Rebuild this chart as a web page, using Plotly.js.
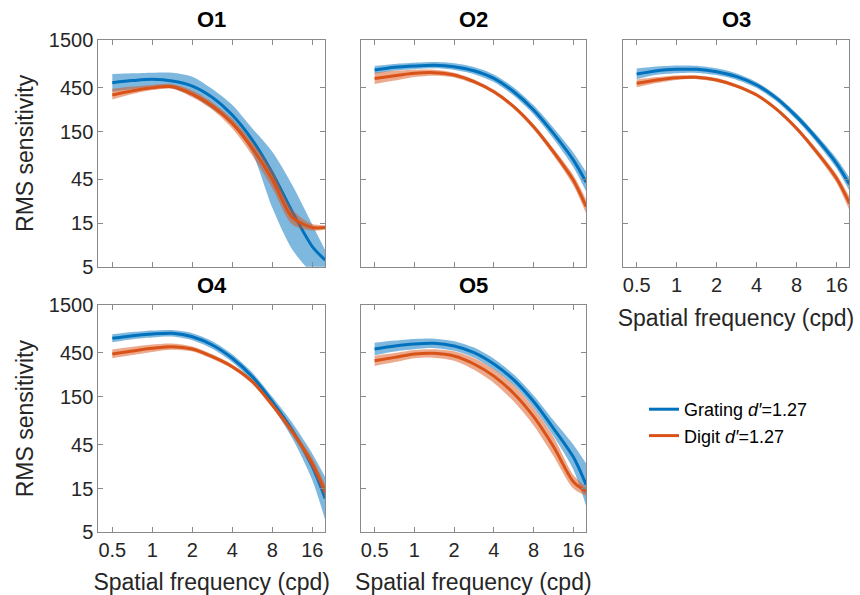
<!DOCTYPE html>
<html><head><meta charset="utf-8">
<script src="https://cdn.plot.ly/plotly-3.0.1.min.js"></script>
<style>body{margin:0;background:#fff}#chart{width:860px;height:595px}</style>
</head><body><div id="chart"></div>
<script>
// Spatial frequency (cpd)
const freq = [0.5, 0.71, 1, 1.41, 2, 2.83, 4, 5.66, 8, 11.3, 16, 20];
const panelNames = ['O1', 'O2', 'O3', 'O4', 'O5'];
const xTickVals = [0.5, 1, 2, 4, 8, 16];
const xTickText = ['0.5', '1', '2', '4', '8', '16'];
const yTickVals = [5, 15, 45, 150, 450, 1500];
const yTickText = ['5', '15', '45', '150', '450', '1500'];
const seriesNames = ['Grating <i>d′</i>=1.27', 'Digit <i>d′</i>=1.27'];

// O1
const gratingO1   = [513, 540, 557, 535, 471, 354, 227, 121, 53, 20, 8.3, 5.9];
const gratingO1Hi = [637, 648, 659, 659, 596, 437, 292, 162, 90, 39, 14.4, 7.6];
const gratingO1Lo = [408, 437, 464, 444, 366, 264, 181, 87, 22, 7.7, 4.2, 3.1];
const digitO1     = [376, 419, 452, 463, 385, 285, 184, 98, 45, 17.3, 13.4, 13.4];
const digitO1Hi   = [440, 465, 485, 495, 420, 312, 207, 115, 56, 21, 14.6, 14.2];
const digitO1Lo   = [335, 385, 425, 440, 355, 260, 162, 82, 36, 14.5, 12.4, 12.7];
// O2
const gratingO2   = [705, 754, 779, 793, 767, 693, 571, 408, 258, 143, 73, 41.7];
const gratingO2Hi = [780, 820, 845, 860, 835, 760, 630, 455, 290, 165, 88, 54];
const gratingO2Lo = [640, 695, 720, 735, 705, 635, 520, 368, 230, 125, 61, 33];
const digitO2     = [571, 611, 648, 659, 621, 526, 408, 280, 169, 90, 44, 22.6];
const digitO2Hi   = [660, 690, 710, 710, 660, 555, 428, 295, 180, 98, 50, 27];
const digitO2Lo   = [495, 540, 590, 610, 585, 498, 388, 265, 158, 82, 38.5, 19];
// O3
const gratingO3   = [637, 693, 717, 717, 676, 596, 483, 345, 218, 126, 67, 39.7];
const gratingO3Hi = [730, 770, 790, 785, 735, 645, 520, 372, 237, 138, 76, 47];
const gratingO3Lo = [560, 625, 650, 655, 620, 550, 448, 320, 200, 114, 59, 33.5];
const digitO3     = [504, 548, 581, 586, 548, 471, 376, 262, 162, 90, 46, 24.6];
const digitO3Hi   = [555, 590, 615, 615, 575, 492, 392, 274, 171, 97, 51, 29];
const digitO3Lo   = [458, 508, 550, 560, 523, 452, 360, 250, 153, 83, 41, 20.5];
// O4
const gratingO4   = [650, 695, 724, 736, 677, 550, 394, 248, 133, 65, 26, 11.7];
const gratingO4Hi = [720, 760, 790, 800, 740, 605, 435, 275, 150, 78, 36, 20];
const gratingO4Lo = [590, 635, 665, 680, 620, 500, 357, 223, 117, 53, 18.5, 6.8];
const digitO4     = [438, 473, 506, 527, 497, 410, 319, 219, 122, 62.5, 28, 13.9];
const digitO4Hi   = [490, 525, 555, 570, 530, 435, 337, 232, 130, 68, 32, 16.5];
const digitO4Lo   = [395, 428, 462, 488, 467, 387, 302, 207, 114, 57, 24.5, 11.8];
// O5
const gratingO5   = [497, 536, 564, 573, 536, 454, 341, 229, 133, 68, 33, 16.4];
const gratingO5Hi = [580, 615, 640, 645, 605, 515, 390, 262, 155, 83, 45, 28];
const gratingO5Lo = [425, 468, 495, 508, 475, 400, 298, 200, 114, 56, 24, 9.6];
const digitO5     = [371, 403, 438, 446, 417, 341, 252, 163, 91, 43, 17.8, 13.9];
const digitO5Hi   = [420, 450, 485, 495, 470, 395, 300, 200, 113, 55, 21, 15.5];
const digitO5Lo   = [325, 358, 395, 400, 370, 295, 212, 133, 73, 34, 15, 12.5];

const panelData = [
  [gratingO1, gratingO1Lo, gratingO1Hi, digitO1, digitO1Lo, digitO1Hi],
  [gratingO2, gratingO2Lo, gratingO2Hi, digitO2, digitO2Lo, digitO2Hi],
  [gratingO3, gratingO3Lo, gratingO3Hi, digitO3, digitO3Lo, digitO3Hi],
  [gratingO4, gratingO4Lo, gratingO4Hi, digitO4, digitO4Lo, digitO4Hi],
  [gratingO5, gratingO5Lo, gratingO5Hi, digitO5, digitO5Lo, digitO5Hi]
];

const blue = '#0072BD', orange = '#D95319';
const blueFill = 'rgba(0,114,189,0.5)', orangeFill = 'rgba(217,83,25,0.5)';
const font = 'Liberation Sans, Arial, Helvetica, sans-serif';

const W = 860, H = 595;
const colPx = [[98.3, 325], [360.7, 586], [622.7, 849.3]];
const rowPx = [[40, 266.7], [305, 532.3]];
const place = [[0, 0], [0, 1], [0, 2], [1, 0], [1, 1]];

const traces = [];
const layout = {
  width: W, height: H,
  margin: {l: 0, r: 0, t: 0, b: 0},
  paper_bgcolor: '#fff', plot_bgcolor: '#fff',
  font: {family: font, color: '#262626'},
  showlegend: true,
  legend: {x: 644 / W, y: 1 - 391 / H, xanchor: 'left', yanchor: 'top',
           font: {size: 18, family: font, color: '#000'}, bgcolor: 'rgba(0,0,0,0)',
           tracegroupgap: 0, itemwidth: 30},
  annotations: []
};

panelData.forEach((d, i) => {
  const [r, c] = place[i];
  const sfx = i === 0 ? '' : String(i + 1);
  const xa = 'x' + sfx, ya = 'y' + sfx;
  const common = {x: freq, xaxis: xa, yaxis: ya, mode: 'lines', hoverinfo: 'skip'};
  const spl = {shape: 'spline', smoothing: 0.8};
  traces.push(Object.assign({}, common, {y: d[1], line: Object.assign({width: 0, color: blueFill}, spl), showlegend: false}));
  traces.push(Object.assign({}, common, {y: d[2], fill: 'tonexty', fillcolor: blueFill, line: Object.assign({width: 0, color: blueFill}, spl), showlegend: false}));
  traces.push(Object.assign({}, common, {y: d[0], name: seriesNames[0], legendgroup: 'g', showlegend: i === 0, line: Object.assign({width: 3, color: blue}, spl)}));
  traces.push(Object.assign({}, common, {y: d[4], line: Object.assign({width: 0, color: orangeFill}, spl), showlegend: false}));
  traces.push(Object.assign({}, common, {y: d[5], fill: 'tonexty', fillcolor: orangeFill, line: Object.assign({width: 0, color: orangeFill}, spl), showlegend: false}));
  traces.push(Object.assign({}, common, {y: d[3], name: seriesNames[1], legendgroup: 'd', showlegend: i === 0, line: Object.assign({width: 3, color: orange}, spl)}));

  const showXLabels = (i >= 2);
  const showYLabels = (c === 0);
  const axBase = {
    showline: true, linecolor: '#8a8a8a', linewidth: 1, mirror: 'ticks',
    ticks: 'inside', ticklen: 5, tickcolor: '#8a8a8a', tickwidth: 1,
    showgrid: false, zeroline: false, type: 'log', fixedrange: true,
    tickfont: {size: 20, family: font, color: '#262626'}
  };
  layout['xaxis' + sfx] = Object.assign({}, axBase, {
    domain: [colPx[c][0] / W, colPx[c][1] / W],
    range: [Math.log10(0.3923), Math.log10(19.93)],
    anchor: ya, tickvals: xTickVals, ticktext: xTickText,
    showticklabels: showXLabels,
    title: showXLabels ? {text: 'Spatial frequency (cpd)', font: {size: 23, family: font, color: '#262626'}, standoff: 15} : {text: ''}
  });
  layout['yaxis' + sfx] = Object.assign({}, axBase, {
    domain: [1 - rowPx[r][1] / H, 1 - rowPx[r][0] / H],
    range: [Math.log10(5), Math.log10(1500)],
    anchor: xa, tickvals: yTickVals, ticktext: yTickText,
    showticklabels: showYLabels,
    title: showYLabels ? {text: 'RMS sensitivity', font: {size: 23, family: font, color: '#262626'}, standoff: 8} : {text: ''}
  });
  layout.annotations.push({
    text: '<b>' + panelNames[i] + '</b>', xref: 'paper', yref: 'paper',
    x: (colPx[c][0] + colPx[c][1]) / 2 / W, y: 1 - (rowPx[r][0] - 20) / H,
    xanchor: 'center', yanchor: 'middle', showarrow: false,
    font: {size: 22, family: font, color: '#000'}
  });
});

Plotly.newPlot('chart', traces, layout, {staticPlot: true, displayModeBar: false});
</script>
</body></html>
